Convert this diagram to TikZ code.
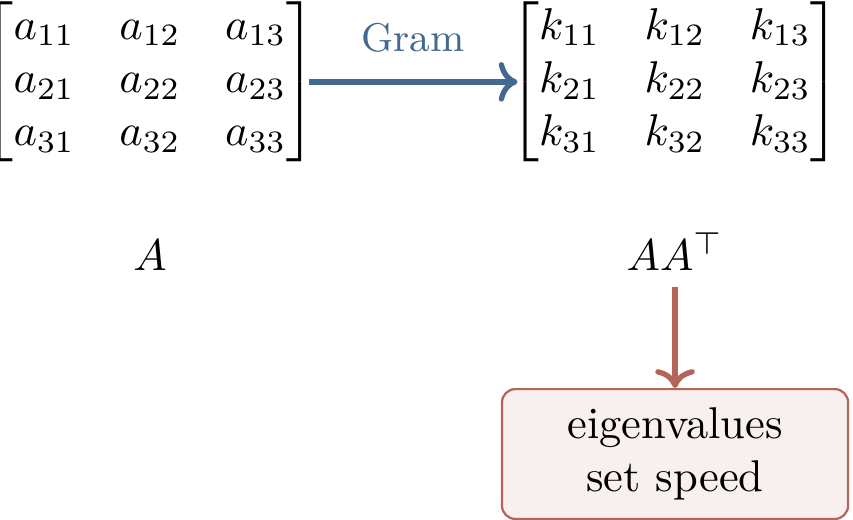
\documentclass[tikz,border=0pt]{standalone}
\usepackage{amsmath}
\usetikzlibrary{arrows.meta}
\definecolor{gramblue}{RGB}{68,105,143}
\definecolor{eigred}{RGB}{181,100,90}
\definecolor{eigfill}{RGB}{248,240,239}
\begin{document}
\begin{tikzpicture}[x=1pt,y=1pt,
  mat/.style={inner sep=0pt},
  lbl/.style={anchor=base},
  gramarrow/.style={draw=gramblue,line width=1.2pt,-{Computer Modern Rightarrow[]},shorten <=-1.7pt,shorten >=-2pt},
  eigarrow/.style={draw=eigred,line width=1.2pt,-{Computer Modern Rightarrow[]}},
  eigbox/.style={draw=eigred,fill=eigfill,line width=0.5pt,rounded corners=3pt,align=center,inner xsep=14.7pt,inner ysep=4.15pt,anchor=north}]
\useasboundingbox (-33.7,18.4) rectangle (158.0,-98.4);
\node[mat] (A) at (0,0) {$\begin{bmatrix} a_{11} & a_{12} & a_{13}\\ a_{21} & a_{22} & a_{23}\\ a_{31} & a_{32} & a_{33}\end{bmatrix}$};
\node[mat] (K) at (118,0) {$\begin{bmatrix} k_{11} & k_{12} & k_{13}\\ k_{21} & k_{22} & k_{23}\\ k_{31} & k_{32} & k_{33}\end{bmatrix}$};
\node[lbl] (LA) at (0,-42.5) {$A$};
\node[lbl] (LK) at (118,-42.5) {$AA^{\top}$};
\node[eigbox] (E) at (118,-68.8) {eigenvalues\\set speed};
\draw[gramarrow] (A.east) -- node[above=2.8pt,text=gramblue,font=\small] (G) {Gram} (K.west);
\draw[eigarrow] (LK.south) -- (E.north);
\end{tikzpicture}
\end{document}
